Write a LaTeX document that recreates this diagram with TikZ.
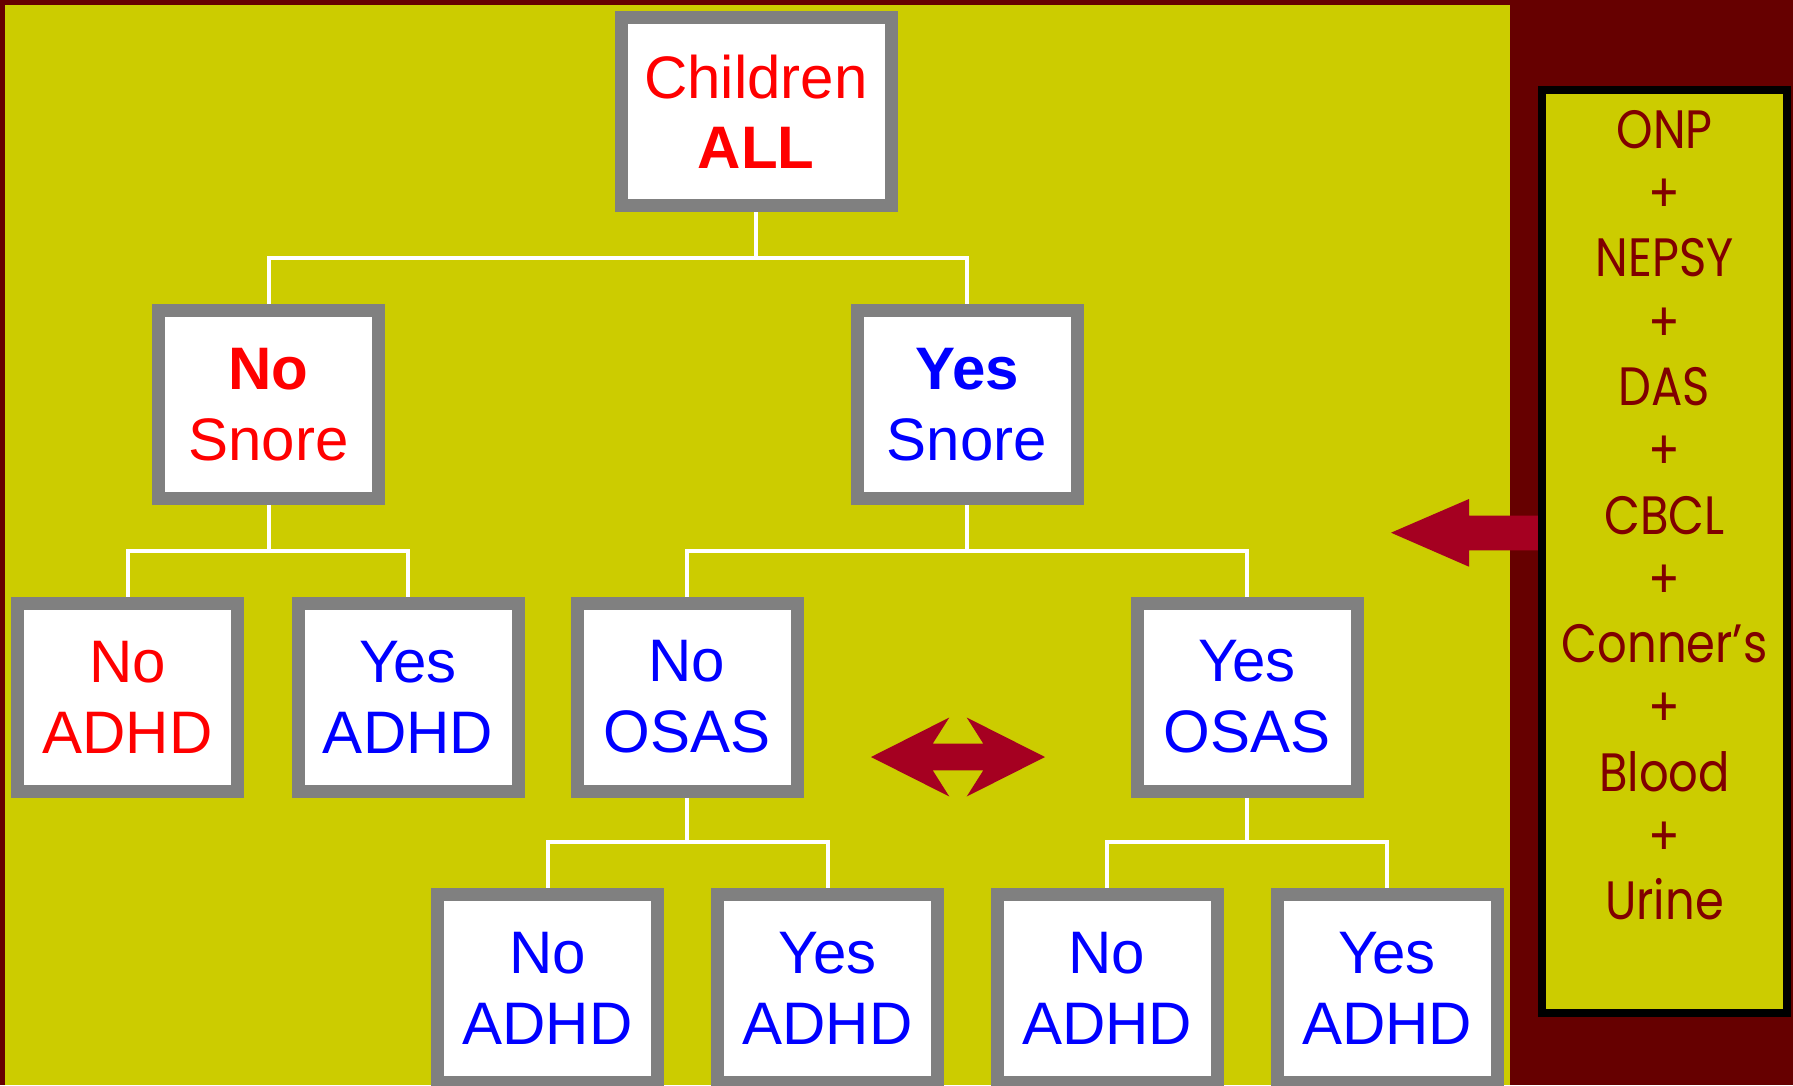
\documentclass[tikz,border=0pt]{standalone}
\usepackage{fontspec}
\setmainfont{Liberation Sans}
\newfontfamily\panelfont[FakeStretch=0.86]{Poppins}

\definecolor{framered}{HTML}{660000}
\definecolor{field}{HTML}{CCCC00}
\definecolor{boxgray}{HTML}{808080}
\definecolor{arrowred}{HTML}{A50021}
\definecolor{paneltext}{HTML}{800000}
\definecolor{nored}{HTML}{FF0000}
\definecolor{yesblue}{HTML}{0000FF}

\tikzset{
  box/.style={draw=boxgray, line width=13pt, fill=white,
    minimum width=220pt, minimum height=188pt, inner sep=0pt,
    align=center, font=\fontsize{60}{71}\selectfont},
  rootbox/.style={box, minimum width=270pt, font=\fontsize{60}{70}\selectfont},
  negtext/.style={text=nored},
  postext/.style={text=yesblue},
  conn/.style={draw=white, line width=4pt},
  panelbox/.style={draw=black, line width=8pt, fill=field,
    minimum width=245pt, minimum height=923pt, inner sep=0pt},
  paneltxt/.style={text=paneltext, align=center, inner sep=0pt,
    font=\panelfont\fontsize{54}{64.3}\selectfont},
  blockarrow/.style={fill=arrowred}
}

\begin{document}
\begin{tikzpicture}[x=1pt,y=-1pt]
  \useasboundingbox (0,0) rectangle (1793,1085);
  % backdrop
  \fill[framered] (0,0) rectangle (1793,1085);
  \fill[field] (5,5) rectangle (1510,1085);

  % tree nodes
  \node[rootbox, negtext] (root) at (756,111.5) {Children\\\textbf{ALL}};

  \node[box, negtext] (nosnore)  at (268.5,404.5) {\textbf{No}\\Snore};
  \node[box, postext] (yessnore) at (967,404.5)   {\textbf{Yes}\\Snore};

  \node[box, negtext] (noadhd)  at (127.5,697) {No\\ADHD};
  \node[box, postext] (yesadhd) at (408,697)   {Yes\\ADHD};
  \node[box, postext] (noosas)  at (687,697)   {No\\OSAS};
  \node[box, postext] (yesosas) at (1247,697)  {Yes\\OSAS};

  \node[box, postext] (nono)   at (547.5,988)  {No\\ADHD};
  \node[box, postext] (noyes)  at (827.5,988)  {Yes\\ADHD};
  \node[box, postext] (yesno)  at (1107,988)   {No\\ADHD};
  \node[box, postext] (yesyes) at (1387,988)   {Yes\\ADHD};

  % tree connectors
  \draw[conn] (root.south) -- (root.south |- 0,258);
  \draw[conn] (nosnore.north) -- (nosnore.north |- 0,258)
              -- (yessnore.north |- 0,258) -- (yessnore.north);

  \draw[conn] (nosnore.south) -- (nosnore.south |- 0,551.3);
  \draw[conn] (noadhd.north) -- (noadhd.north |- 0,551.3)
              -- (yesadhd.north |- 0,551.3) -- (yesadhd.north);

  \draw[conn] (yessnore.south) -- (yessnore.south |- 0,551.3);
  \draw[conn] (noosas.north) -- (noosas.north |- 0,551.3)
              -- (yesosas.north |- 0,551.3) -- (yesosas.north);

  \draw[conn] (noosas.south) -- (noosas.south |- 0,841.7);
  \draw[conn] (nono.north) -- (nono.north |- 0,841.7)
              -- (noyes.north |- 0,841.7) -- (noyes.north);

  \draw[conn] (yesosas.south) -- (yesosas.south |- 0,841.7);
  \draw[conn] (yesno.north) -- (yesno.north |- 0,841.7)
              -- (yesyes.north |- 0,841.7) -- (yesyes.north);

  % double-headed block arrow between the OSAS groups
  \begin{scope}[shift={(958,757)}]
    \fill[blockarrow] (-87,0) -- (-8.7,-39.5) -- (-25.3,-13.3) -- (25.3,-13.3)
      -- (8.7,-39.5) -- (87,0) -- (8.7,39.5) -- (25.3,13.3) -- (-25.3,13.3)
      -- (-8.7,39.5) -- cycle;
  \end{scope}

  % panel of assessments
  \coordinate (panelc) at (1664.5,551.5);
  \fill[blockarrow] (1545,515.7) -- (1469,515.7) -- (1469,499) -- (1391,532.7)
    -- (1469,566.7) -- (1469,550.3) -- (1545,550.3) -- cycle;
  \node[panelbox] (panel) at (panelc) {};
  \node[paneltxt, anchor=north] (tests) at (1664.5,110)
    {ONP\\+\\NEPSY\\+\\DAS\\+\\CBCL\\+\\Conner’s\\+\\Blood\\+\\Urine};
\end{tikzpicture}
\end{document}
